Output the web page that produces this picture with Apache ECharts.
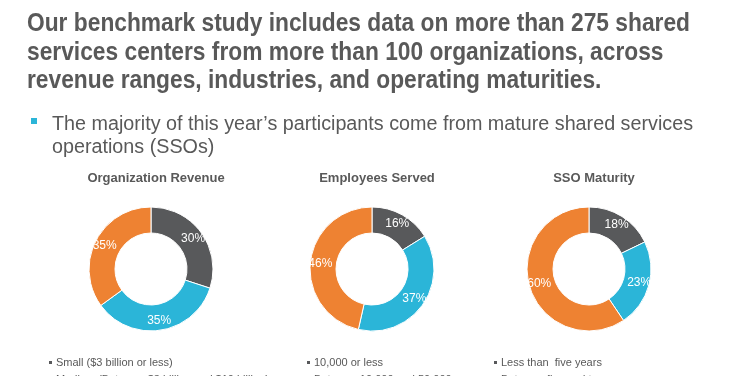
<!DOCTYPE html>
<html>
<head>
<meta charset="utf-8">
<title>SSO benchmark</title>
<script src="https://cdn.jsdelivr.net/npm/echarts@6/dist/echarts.min.js"></script>
<style>
  html, body { margin: 0; padding: 0; background: #fff; }
  #main { width: 740px; height: 376px; }
</style>
</head>
<body>
<div id="main"></div>
<script>
// headline + bullet text
var headLines = [
  'Our benchmark study includes data on more than 275 shared',
  'services centers from more than 100 organizations, across',
  'revenue ranges, industries, and operating maturities.'
];
var bulletLines = [
  'The majority of this year\u2019s participants come from mature shared services',
  'operations (SSOs)'
];

// donut data
var chartTitles = ['Organization Revenue', 'Employees Served', 'SSO Maturity'];
var revenueNames = ['Small ($3 billion or less)', 'Medium (Between $3 billion and $10 billion)', 'Large (More than $10 billion)'];
var revenueValues = [30, 35, 35];
var employeeNames = ['10,000 or less', 'Between 10,000 and 50,000', 'More than 50,000'];
var employeeValues = [16, 37, 46];
var maturityNames = ['Less than  five years', 'Between five and ten years', 'More than ten years'];
var maturityValues = [18, 23, 60];

var colors = ['#58595b', '#2bb5d8', '#ee8232'];
var textGray = '#595959';

// squeeze text horizontally to the width it has on the slide
var ctx = document.createElement('canvas').getContext('2d');
function fitScale(font, text, width) {
  ctx.font = font;
  return width / ctx.measureText(text).width;
}
var headFont = 'bold 26px "Liberation Sans"';
var subFont = '20px "Liberation Sans"';
var headScale = fitScale(headFont, headLines[0], 663);
var subScale = fitScale(subFont, bulletLines[0], 641);

var centersX = [151, 372, 589];
var centerY = 269;
var namesList = [revenueNames, employeeNames, maturityNames];
var valuesList = [revenueValues, employeeValues, maturityValues];
var legendLeft = [42, 300, 487];

var graphic = [];
headLines.forEach(function (t, i) {
  graphic.push({
    type: 'text', x: 27, y: 24 + i * 28.5, scaleX: headScale, silent: true,
    style: { text: t, font: headFont, fill: textGray, verticalAlign: 'middle' }
  });
});
bulletLines.forEach(function (t, i) {
  graphic.push({
    type: 'text', x: 52, y: 124 + i * 23, scaleX: subScale, silent: true,
    style: { text: t, font: subFont, fill: textGray, verticalAlign: 'middle' }
  });
});
graphic.push({
  type: 'rect', shape: { x: 31, y: 118, width: 6, height: 6 }, silent: true,
  style: { fill: '#2bb5d8' }
});

var titles = [], legends = [], series = [];
for (var k = 0; k < 3; k++) {
  titles.push({
    text: chartTitles[k], left: centersX[k], top: 167, textAlign: 'center',
    textStyle: { fontFamily: 'Liberation Sans', fontSize: 13, fontWeight: 'bold', color: textGray }
  });
  legends.push({
    orient: 'vertical', left: legendLeft[k], top: 352, height: 80, width: 240,
    data: namesList[k], icon: 'rect', itemWidth: 5, itemHeight: 5, itemGap: 6,
    selectedMode: false,
    textStyle: { fontFamily: 'Liberation Sans', fontSize: 11, color: textGray, padding: [0, 0, 0, -2] }
  });
  series.push({
    type: 'pie',
    center: [centersX[k], centerY],
    radius: [36, 62],
    startAngle: 90,
    clockwise: true,
    silent: true,
    itemStyle: { borderColor: '#fff', borderWidth: 1 },
    label: {
      position: 'inside', formatter: '{c}%', color: '#fff',
      fontFamily: 'Liberation Sans', fontSize: 12
    },
    labelLine: { show: false },
    data: namesList[k].map(function (n, i) {
      return { name: n, value: valuesList[k][i], itemStyle: { color: colors[i] } };
    })
  });
}

var myChart = echarts.init(document.getElementById('main'));
myChart.setOption({
  animation: false,
  color: colors,
  title: titles,
  legend: legends,
  graphic: graphic,
  series: series
});
</script>
</body>
</html>
